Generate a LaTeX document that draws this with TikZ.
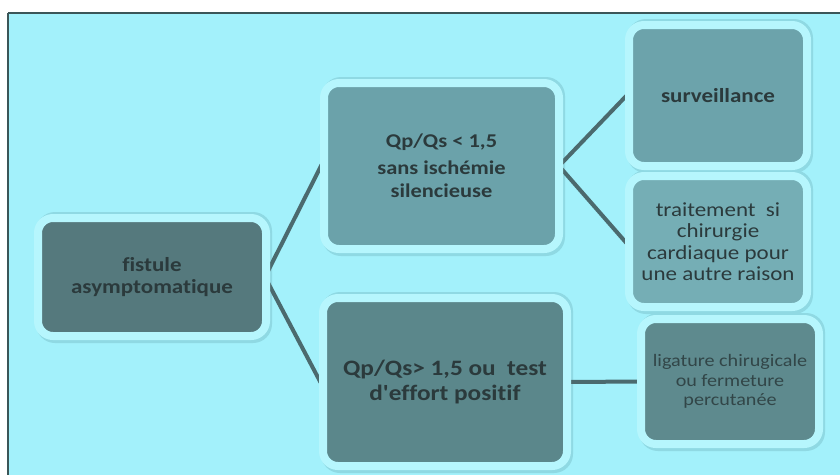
\documentclass[tikz,border=0pt]{standalone}
\usepackage{fontspec}
\setmainfont{Carlito}[FakeStretch=1.15, Ligatures={CommonOff,TeXOff}]
\usetikzlibrary{backgrounds}
\definecolor{bgcyan}{HTML}{A3F1FB}
\definecolor{halo}{HTML}{B6F6FD}
\definecolor{frameline}{HTML}{3B5658}
\definecolor{conn}{HTML}{4B6A6E}
\definecolor{txt}{HTML}{2B3A3C}
\definecolor{cfist}{HTML}{55797D}
\definecolor{cqone}{HTML}{6BA2AA}
\definecolor{csurv}{HTML}{6CA3AB}
\definecolor{ctrait}{HTML}{75AEB5}
\definecolor{cqtwo}{HTML}{5B878B}
\definecolor{clig}{HTML}{5E8A8E}
\definecolor{shade}{HTML}{8FD9E3}
\tikzset{
  x=1pt, y=-1pt,
  boxnode/.style={draw=halo, line width=8pt, rounded corners=15pt,
    align=center, text=txt, inner sep=0pt, outer sep=0pt},
  connector/.style={draw=conn, line width=4pt, line cap=round, line join=round},
  shadowbox/.style={fill=shade, rounded corners=19pt},
}
\begin{document}
\begin{tikzpicture}
\useasboundingbox (0,0) rectangle (840,475);

\node[boxnode, fill=cfist, minimum width=228pt, minimum height=118pt,
  font=\fontsize{20}{22}\selectfont\bfseries] (fist) at (152,277)
  {fistule\\asymptomatique};
\node[boxnode, fill=cqone, minimum width=235pt, minimum height=166pt,
  font=\fontsize{19.5}{23}\selectfont\bfseries] (qone) at (441.5,166)
  {Qp/Qs < 1,5\\[4pt]sans ischémie\\silencieuse};
\node[boxnode, fill=cqtwo, minimum width=244pt, minimum height=168pt,
  font=\fontsize{22}{25}\selectfont\bfseries] (qtwo) at (445,382)
  {Qp/Qs> 1,5 ou\ \ test\\d'effort positif};
\node[boxnode, fill=csurv, minimum width=178pt, minimum height=141pt,
  font=\fontsize{20}{22}\selectfont\bfseries] (surv) at (718,95.5)
  {surveillance};
\node[boxnode, fill=ctrait, minimum width=178pt, minimum height=131pt,
  font=\fontsize{20}{21.5}\selectfont] (trait) at (718,241.5)
  {traitement\ \ si\\chirurgie\\cardiaque pour\\une autre raison};
\node[boxnode, fill=clig, minimum width=178pt, minimum height=125pt,
  font=\fontsize{17.5}{19.5}\selectfont, text=txt!85!cqtwo] (lig) at (730,381.5)
  {ligature chirugicale\\ou fermeture\\percutanée};

\begin{pgfonlayer}{background}
  \fill[white] (0,0) rectangle (840,475);
  \fill[bgcyan] (8,13) rectangle (840,475);
  \draw[frameline, line width=1.5pt] (8,13) -- (840,13);
  \draw[frameline, line width=2.5pt] (8,13) -- (8,475);
  \foreach \b in {fist,qone,qtwo,surv,trait,lig}{
    \fill[shadowbox] ([shift={(-2pt,6pt)}]\b.north west)
      rectangle ([shift={(6pt,-7pt)}]\b.south east);
  }
  \coordinate (ja) at ([xshift=-1pt]fist.east);
  \coordinate (jb) at (qone.east);
  \draw[connector] ([yshift=6pt]qone.west) -- (ja) -- ([yshift=-5pt]qtwo.west);
  \draw[connector] ([yshift=2.5pt]surv.west) -- (jb) -- ([yshift=-4.5pt]trait.west);
  \draw[connector] (qtwo.east) -- (lig.west);
\end{pgfonlayer}
\end{tikzpicture}
\end{document}
